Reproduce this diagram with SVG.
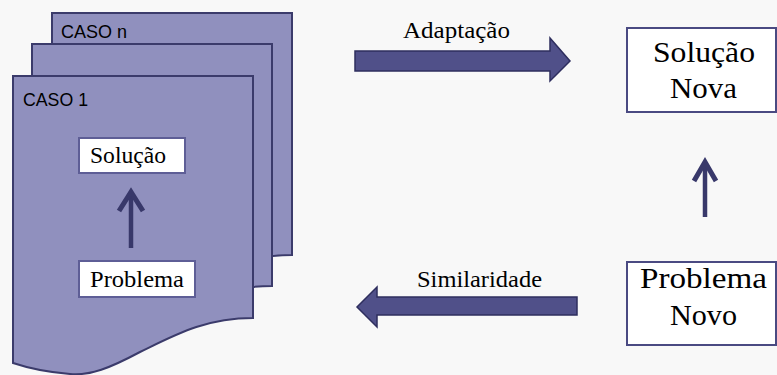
<svg xmlns="http://www.w3.org/2000/svg" width="777" height="375" viewBox="0 0 777 375">
  <style>
    .page { fill: #9090be; stroke: #3b3b6b; stroke-width: 2; }
    .box { fill: #ffffff; stroke: #4a4a82; stroke-width: 2; }
    .ibox { fill: #ffffff; stroke: #5e5e96; stroke-width: 2; }
    .sans { font-family: "Liberation Sans", Arial, sans-serif; font-size: 18.5px; fill: #000; }
    .serif { font-family: "Liberation Serif", "Times New Roman", serif; fill: #000; }
    .big { fill: #505089; stroke: #2e2e5e; stroke-width: 1.5; stroke-linejoin: miter; }
    .small { fill: none; stroke: #38386a; stroke-width: 5; stroke-linejoin: miter; }
    .shaft { stroke: #38386a; stroke-width: 4.5; }
  </style>
  <defs>
    <path id="doc" d="M13,76 H253 V318 C205,318 175,335 140,352 C110,368 90,376 70,374 C45,372 25,367 13,363 Z"/>
  </defs>
  <rect x="0" y="0" width="777" height="375" fill="#f8f8f8"/>

  <g id="caso-n">
    <use href="#doc" class="page" transform="translate(39,-63)"/>
    <text class="sans" x="61" y="38" textLength="66" lengthAdjust="spacingAndGlyphs">CASO n</text>
  </g>
  <g id="caso-mid">
    <use href="#doc" class="page" transform="translate(19,-32)"/>
  </g>
  <g id="caso-1">
    <use href="#doc" class="page"/>
    <text class="sans" x="23" y="106" textLength="65" lengthAdjust="spacingAndGlyphs">CASO 1</text>
  </g>
  <g id="solucao">
    <rect class="ibox" x="79" y="138" width="106" height="35"/>
    <text class="serif" font-size="22.5" x="90" y="163" textLength="76" lengthAdjust="spacingAndGlyphs">Solução</text>
  </g>
  <g id="problema">
    <rect class="ibox" x="79" y="261" width="116" height="36"/>
    <text class="serif" font-size="22.5" x="90" y="287" textLength="94" lengthAdjust="spacingAndGlyphs">Problema</text>
  </g>
  <g id="solucao-nova">
    <rect class="box" x="627" y="28" width="149" height="84"/>
    <text class="serif" font-size="29" x="653" y="62" textLength="102" lengthAdjust="spacingAndGlyphs">Solução</text>
    <text class="serif" font-size="29" x="670" y="98" textLength="67" lengthAdjust="spacingAndGlyphs">Nova</text>
  </g>
  <g id="problema-novo">
    <rect class="box" x="627" y="262" width="149" height="83"/>
    <text class="serif" font-size="29" x="640" y="288" textLength="127" lengthAdjust="spacingAndGlyphs">Problema</text>
    <text class="serif" font-size="29" x="670" y="325" textLength="67" lengthAdjust="spacingAndGlyphs">Novo</text>
  </g>

  <g id="connectors">
    <line class="shaft" x1="131" y1="248" x2="131" y2="194"/>
    <polyline class="small" points="119,211 131,192 143,211"/>
    <line class="shaft" x1="705" y1="217" x2="705" y2="164"/>
    <polyline class="small" points="694,181 705,162 716,181"/>
    <polygon class="big" points="355,51 550,51 550,38 570,61 550,81 550,71 355,71"/>
    <text class="serif" font-size="22.5" x="403" y="38" textLength="107" lengthAdjust="spacingAndGlyphs">Adaptação</text>
    <polygon class="big" points="577,297 377,297 377,287 357,307 377,327 377,315 577,315"/>
    <text class="serif" font-size="22.5" x="417" y="287" textLength="125" lengthAdjust="spacingAndGlyphs">Similaridade</text>
  </g>
</svg>
